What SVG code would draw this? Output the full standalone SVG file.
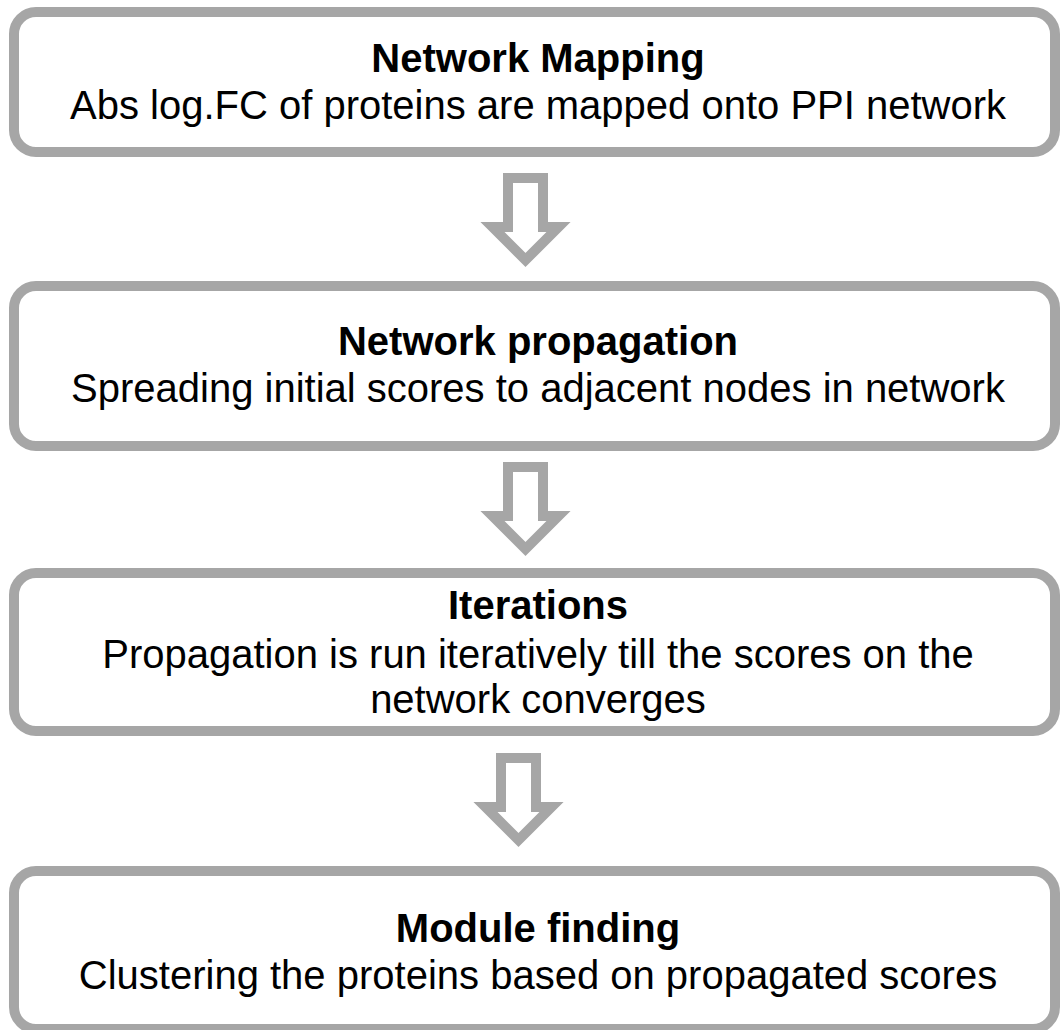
<svg xmlns="http://www.w3.org/2000/svg" xmlns:xlink="http://www.w3.org/1999/xlink" width="1060" height="1030" viewBox="0 0 1060 1030">
  <style>
    .box { fill: #ffffff; stroke: #a6a6a6; stroke-width: 10; }
    .arrow { fill: #ffffff; stroke: #a6a6a6; stroke-width: 10; stroke-linejoin: miter; stroke-miterlimit: 10; }
    .title { font-family: "Liberation Sans", Arial, sans-serif; font-size: 40px; font-weight: bold; fill: #000000; text-anchor: middle; }
    .body { font-family: "Liberation Sans", Arial, sans-serif; font-size: 40px; fill: #000000; text-anchor: middle; }
  </style>
  <defs>
    <!-- hollow down arrow, origin at top-centre of the shaft -->
    <path id="down" class="arrow" d="M-17.5,0 H17.5 V49 H33 L0,82 L-33,49 H-17.5 Z"/>
  </defs>

  <rect width="1060" height="1030" fill="#ffffff"/>

  <g id="connectors">
    <use xlink:href="#down" href="#down" transform="translate(525.5,178)"/>
    <use xlink:href="#down" href="#down" transform="translate(525.5,467)"/>
    <use xlink:href="#down" href="#down" transform="translate(518.5,758)"/>
  </g>

  <g id="network-mapping">
    <rect class="box" x="14" y="12" width="1041" height="140" rx="22"/>
    <text class="title" x="538" y="72">Network Mapping</text>
    <text class="body" x="538" y="119">Abs log.FC of proteins are mapped onto PPI network</text>
  </g>

  <g id="network-propagation">
    <rect class="box" x="14" y="286" width="1041" height="160" rx="22"/>
    <text class="title" x="538" y="355">Network propagation</text>
    <text class="body" x="538" y="402">Spreading initial scores to adjacent nodes in network</text>
  </g>

  <g id="iterations">
    <rect class="box" x="14" y="573" width="1041" height="158" rx="22"/>
    <text class="title" x="538" y="619">Iterations</text>
    <text class="body" x="538" y="668">Propagation is run iteratively till the scores on the</text>
    <text class="body" x="538" y="713">network converges</text>
  </g>

  <g id="module-finding">
    <rect class="box" x="14" y="871" width="1041" height="158" rx="22"/>
    <text class="title" x="538" y="942">Module finding</text>
    <text class="body" x="538" y="989">Clustering the proteins based on propagated scores</text>
  </g>
</svg>
